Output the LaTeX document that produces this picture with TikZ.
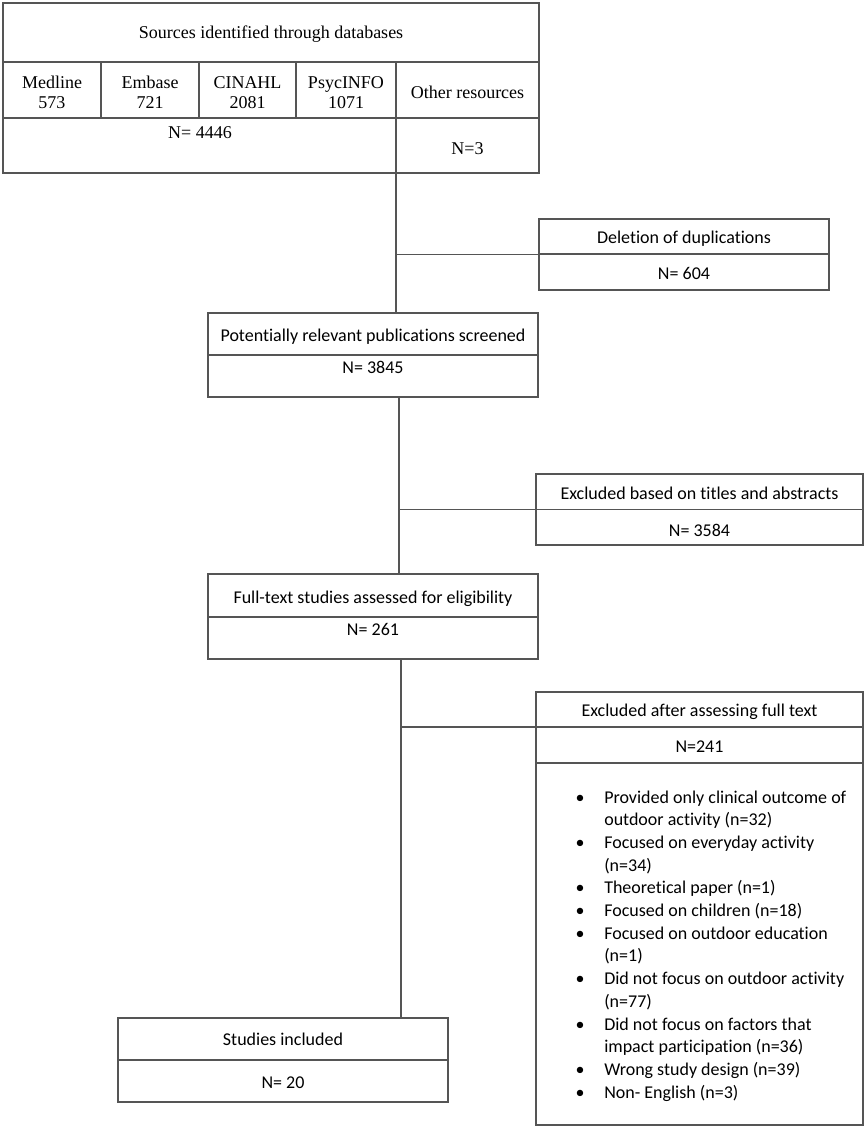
\documentclass[tikz,border=0pt]{standalone}
\usepackage{fontspec}
\setmainfont{Carlito}[Ligatures=NoCommon]
\newfontfamily\timesfont{Liberation Serif}
\usetikzlibrary{fit}
\definecolor{linegray}{HTML}{555555}
\begin{document}
\begin{tikzpicture}[x=0.75pt,y=-0.75pt,
  frame/.style={draw=linegray, line width=1.1pt, inner sep=0pt},
  rule/.style={draw=linegray, line width=1.1pt},
  conn/.style={draw=linegray, line width=1.1pt},
  lbl/.style={font=\fontsize{13.5}{16}\selectfont, anchor=base, inner sep=0pt},
  tlbl/.style={font=\timesfont\fontsize{13.5}{15}\selectfont, anchor=base, inner sep=0pt}]
\useasboundingbox (0,0) rectangle (867,1128);

% ---- sources box
\node[frame, fit={(3,3) (539,173)}] (src) {};
\draw[rule] (3,62) -- (539,62);
\draw[rule] (3,118) -- (539,118);
\draw[rule] (101,62) -- (101,118);
\draw[rule] (199,62) -- (199,118);
\draw[rule] (296,62) -- (296,118);
\draw[rule] (396,62) -- (396,173);
\node[tlbl] (srct) at (271,38) {Sources identified through databases};
\node[tlbl] (med) at (52,88) {Medline};
\node[tlbl] (medn) at (52,108) {573};
\node[tlbl] (emb) at (150,88) {Embase};
\node[tlbl] (embn) at (150,108) {721};
\node[tlbl] (cin) at (247.5,88) {CINAHL};
\node[tlbl] (cinn) at (247.5,108) {2081};
\node[tlbl] (psy) at (346,88) {PsycINFO};
\node[tlbl] (psyn) at (346,108) {1071};
\node[tlbl] (oth) at (467.5,98) {Other resources};
\node[tlbl] (dbn) at (200,138) {N= 4446};
\node[tlbl] (othn) at (467.5,154) {N=3};

% ---- deletion box
\node[frame, fit={(539,219) (829,290)}] (del) {};
\draw[rule] (539,254) -- (829,254);
\node[lbl] (delt) at (684,243) {Deletion of duplications};
\node[lbl] (deln) at (684,279) {N= 604};

% ---- screened box
\node[frame, fit={(208,313) (538,397)}] (pot) {};
\draw[rule] (208,355) -- (538,355);
\node[lbl] (pott) at (373,341) {Potentially relevant publications screened};
\node[lbl] (potn) at (373,373) {N= 3845};

% ---- excluded titles/abstracts
\node[frame, fit={(536,474) (863,545)}] (exb) {};
\draw[rule] (536,509.5) -- (863,509.5);
\node[lbl] (exbt) at (699.5,499) {Excluded based on titles and abstracts};
\node[lbl] (exbn) at (699.5,536) {N= 3584};

% ---- full text box
\node[frame, fit={(208,574) (538,659)}] (full) {};
\draw[rule] (208,617) -- (538,617);
\node[lbl] (fullt) at (373,603) {Full-text studies assessed for eligibility};
\node[lbl] (fulln) at (373,635) {N= 261};

% ---- excluded after full text
\node[frame, fit={(536,692) (863,1125)}] (exa) {};
\coordinate (exadiv) at (536,727);
\draw[rule] (exadiv) -- (863,727);
\draw[rule] (536,763) -- (863,763);
\node[lbl] (exat) at (699.5,716) {Excluded after assessing full text};
\node[lbl] (exan) at (699.5,752) {N=241};
\foreach \k/\b/\t in {
  0/1/{Provided only clinical outcome of},
  1/0/{outdoor activity (n=32)},
  2/1/{Focused on everyday activity},
  3/0/{(n=34)},
  4/1/{Theoretical paper (n=1)},
  5/1/{Focused on children (n=18)},
  6/1/{Focused on outdoor education},
  7/0/{(n=1)},
  8/1/{Did not focus on outdoor activity},
  9/0/{(n=77)},
  10/1/{Did not focus on factors that},
  11/0/{impact participation (n=36)},
  12/1/{Wrong study design (n=39)},
  13/1/{Non- English (n=3)}}{
  \node[lbl, anchor=base west] (ln\k) at (604,{797+22.7*\k+6}) {\t};
  \ifnum\b=1
    \node[lbl] (bu\k) at (580,{797+22.7*\k+6}) {\textbullet};
  \fi
}

% ---- studies included
\node[frame, fit={(118,1018) (448,1102)}] (stud) {};
\draw[rule] (118,1060) -- (448,1060);
\node[lbl] (studt) at (283,1045) {Studies included};
\node[lbl] (studn) at (283,1088) {N= 20};

% ---- connectors
\coordinate (c1) at (396,0);
\coordinate (c2) at (399,0);
\coordinate (c3) at (401,0);
\draw[conn] (src.south -| c1) -- (pot.north -| c1);
\draw[conn] (c1 |- del.west) -- (del.west);
\draw[conn] (pot.south -| c2) -- (full.north -| c2);
\draw[conn] (c2 |- exb.west) -- (exb.west);
\draw[conn] (full.south -| c3) -- (stud.north -| c3);
\draw[conn] (c3 |- exadiv) -- (exadiv);
\end{tikzpicture}
\end{document}
